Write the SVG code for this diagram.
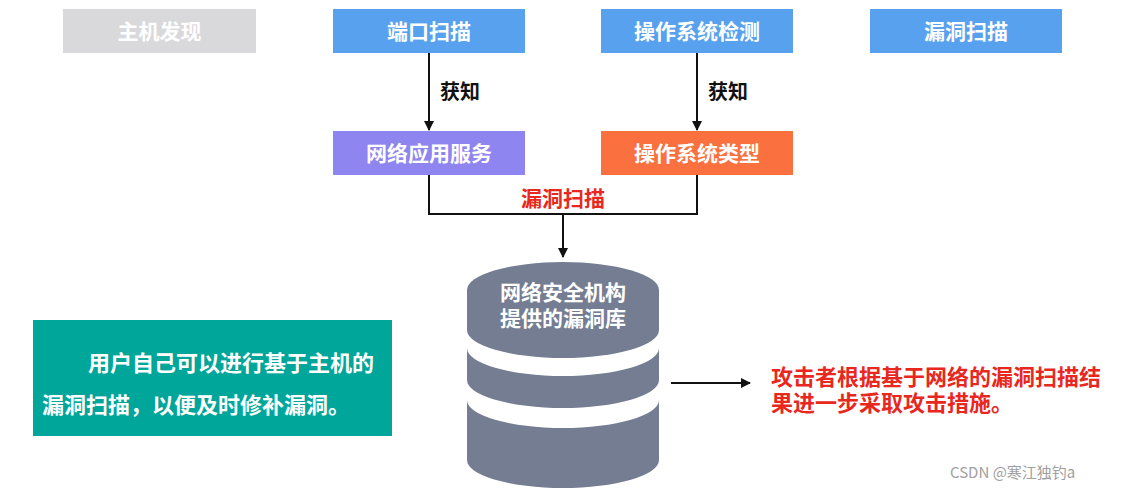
<svg xmlns="http://www.w3.org/2000/svg" width="1122" height="491" viewBox="0 0 1122 491">
<defs>
<style>
text{font-family:"Noto Sans CJK SC","Noto Sans",sans-serif;font-weight:bold;}
.bt{fill:#ffffff;font-size:21px;text-anchor:middle;}
.lab{fill:#111111;font-size:20px;}
.red{fill:#e8271e;font-size:22px;}
.conn{fill:none;stroke:#111111;stroke-width:2;}
.cyl{fill:#757d92;}
</style>
<marker id="ah" viewBox="0 0 10 10" refX="9" refY="5" markerWidth="5" markerHeight="5" orient="auto">
<path d="M0,0 L10,5 L0,10 Z" fill="#111111"/>
</marker>
</defs>
<rect width="1122" height="491" fill="#ffffff"/>

<g id="node-host">
<rect x="63" y="9" width="193" height="44" fill="#d9d9dc"/>
<text class="bt" x="159.5" y="38.5">主机发现</text>
</g>
<g id="node-port">
<rect x="333" y="9" width="192" height="44" fill="#58a1ee"/>
<text class="bt" x="429" y="38.5">端口扫描</text>
</g>
<g id="node-os">
<rect x="601" y="9" width="192" height="44" fill="#58a1ee"/>
<text class="bt" x="697" y="38.5">操作系统检测</text>
</g>
<g id="node-vuln">
<rect x="870" y="9" width="192" height="44" fill="#58a1ee"/>
<text class="bt" x="966" y="38.5">漏洞扫描</text>
</g>
<g id="node-netsvc">
<rect x="333" y="131" width="192" height="44" fill="#8f85f0"/>
<text class="bt" x="429" y="160.5">网络应用服务</text>
</g>
<g id="node-ostype">
<rect x="601" y="131" width="192" height="44" fill="#fa713f"/>
<text class="bt" x="697" y="160.5">操作系统类型</text>
</g>

<g id="node-db">
<path class="cyl" d="M467,290 A96,28 0 0 1 659,290 L659,330 A96,28 0 0 1 467,330 Z"/>
<path class="cyl" d="M467,348 A96,28 0 0 0 659,348 L659,380 A96,28 0 0 1 467,380 Z"/>
<path class="cyl" d="M467,400 A96,28 0 0 0 659,400 L659,460 A96,28 0 0 1 467,460 Z"/>
<text class="bt" x="563" y="300">网络安全机构</text>
<text class="bt" x="563" y="326">提供的漏洞库</text>
</g>

<g id="node-user">
<rect x="33" y="320" width="359" height="116" fill="#00a69a"/>
<text x="88" y="371" fill="#ffffff" font-size="22">用户自己可以进行基于主机的</text>
<text x="42" y="413" fill="#ffffff" font-size="22">漏洞扫描，以便及时修补漏洞。</text>
</g>

<g id="node-attacker">
<text class="red" x="771" y="385">攻击者根据基于网络的漏洞扫描结</text>
<text class="red" x="771" y="411">果进一步采取攻击措施。</text>
</g>

<g id="connectors">
<line class="conn" x1="429" y1="53" x2="429" y2="130" marker-end="url(#ah)"/>
<line class="conn" x1="697" y1="53" x2="697" y2="130" marker-end="url(#ah)"/>
<path class="conn" d="M429,175 L429,214 L697,214 L697,175"/>
<line class="conn" x1="563" y1="214" x2="563" y2="257" marker-end="url(#ah)"/>
<line class="conn" x1="671" y1="383" x2="750" y2="383" marker-end="url(#ah)"/>
<text class="lab" x="440" y="99">获知</text>
<text class="lab" x="708" y="99">获知</text>
<text class="red" x="563" y="206" text-anchor="middle" style="font-size:21px">漏洞扫描</text>
</g>

<text x="950" y="478" fill="#a0a0a0" style="font-weight:normal;font-size:15px">CSDN @寒江独钓a</text>
</svg>
